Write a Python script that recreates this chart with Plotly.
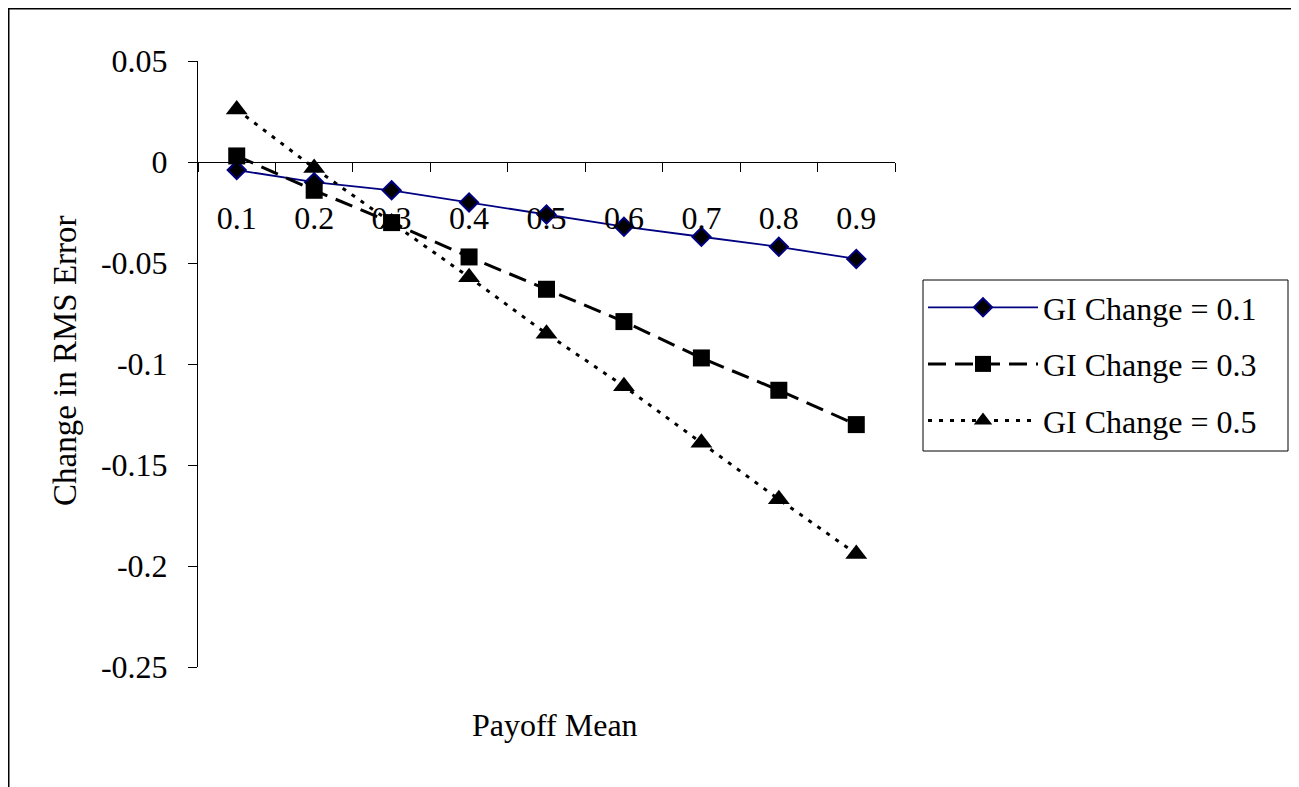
import plotly.graph_objects as go

categories = ["0.1", "0.2", "0.3", "0.4", "0.5", "0.6", "0.7", "0.8", "0.9"]
gi_01 = [-0.004, -0.010, -0.014, -0.020, -0.026, -0.032, -0.037, -0.042, -0.048]
gi_03 = [0.003, -0.014, -0.030, -0.047, -0.063, -0.079, -0.097, -0.113, -0.130]
gi_05 = [0.026, -0.003, -0.030, -0.057, -0.085, -0.111, -0.139, -0.167, -0.194]
series_names = ["GI Change = 0.1", "GI Change = 0.3", "GI Change = 0.5"]
y_tickvals = [0.05, 0, -0.05, -0.1, -0.15, -0.2, -0.25]
y_ticktext = ["0.05", "0", "-0.05", "-0.1", "-0.15", "-0.2", "-0.25"]

FONT = "Liberation Serif, Times New Roman, serif"
FS = 32

OFF = 8  # page body margin offset
W, H = 1299, 787
L = 198 - OFF
T = 61 - OFF
R = W - (895 - OFF)
B = H - (667 - OFF)
pw = W - L - R
ph = H - T - B

def px_to_paper_x(px):
    return (px - OFF - L) / pw

def px_to_paper_y(py):
    return (H - B - (py - OFF)) / ph

fig = go.Figure()
fig.add_trace(go.Scatter(
    x=categories, y=gi_01, name=series_names[0], mode="lines+markers",
    line=dict(color="#000080", width=1.8),
    marker=dict(symbol="diamond", size=14, color="black", line=dict(color="#000080", width=2)),
    legendgroup="a"))
fig.add_trace(go.Scatter(
    x=categories, y=gi_03, name=series_names[1], mode="lines+markers",
    line=dict(color="black", width=3, dash="18px,9px"),
    marker=dict(symbol="square", size=17, color="black"),
    legendgroup="b"))
fig.add_trace(go.Scatter(
    x=categories, y=gi_05, name=series_names[2], mode="lines+markers",
    line=dict(color="black", width=3, dash="4px,7px"),
    marker=dict(symbol="triangle-up", size=19, color="black"),
    legendgroup="c"))

zero_pos = (0 - (-0.25)) / 0.30

fig.update_layout(
    width=W, height=H,
    margin=dict(l=L, r=R, t=T, b=B),
    paper_bgcolor="white", plot_bgcolor="white",
    font=dict(family=FONT, size=FS, color="black"),
    xaxis=dict(
        type="category", range=[-0.5, 8.5], showgrid=False, zeroline=False,
        showline=True, linecolor="black", linewidth=1,
        ticks="outside", ticklen=9, tickcolor="black", tickson="boundaries",
        anchor="free", position=zero_pos, ticklabelstandoff=28,
        tickfont=dict(family=FONT, size=FS),
    ),
    yaxis=dict(
        range=[-0.25, 0.05], showgrid=False, zeroline=False,
        showline=True, linecolor="black", linewidth=1,
        ticks="outside", ticklen=9, tickcolor="black",
        tickvals=y_tickvals, ticktext=y_ticktext, ticklabelstandoff=14,
        tickfont=dict(family=FONT, size=FS),
    ),
    legend=dict(
        x=px_to_paper_x(923), y=px_to_paper_y(280), xanchor="left", yanchor="top",
        borderwidth=0, bgcolor="rgba(0,0,0,0)",
        font=dict(family=FONT, size=FS), itemwidth=110,
        tracegroupgap=12, traceorder="grouped",
    ),
    showlegend=True,
)

# legend frame (drawn beneath the transparent legend)
fig.add_shape(type="rect", xref="paper", yref="paper",
              x0=px_to_paper_x(923), x1=px_to_paper_x(1288),
              y0=px_to_paper_y(451), y1=px_to_paper_y(280),
              line=dict(color="black", width=1), fillcolor="white", layer="above")

fig.add_annotation(
    text="Change in RMS Error", textangle=-90, showarrow=False,
    xref="paper", yref="paper", x=px_to_paper_x(65), y=px_to_paper_y(361),
    xanchor="center", yanchor="middle", font=dict(family=FONT, size=33))
fig.add_annotation(
    text="Payoff Mean", showarrow=False,
    xref="paper", yref="paper", x=px_to_paper_x(555), y=px_to_paper_y(725),
    xanchor="center", yanchor="middle", font=dict(family=FONT, size=FS))

fig.add_shape(type="rect", xref="paper", yref="paper",
              x0=(0.75 - L) / pw, x1=px_to_paper_x(1297),
              y0=px_to_paper_y(820), y1=(H - B - 0.75) / ph,
              line=dict(color="black", width=1.5), layer="below")

fig.write_html("out.html")
